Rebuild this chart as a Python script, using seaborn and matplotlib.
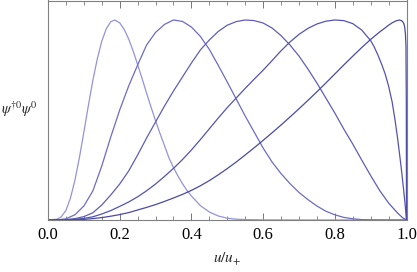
import matplotlib
matplotlib.use("Agg")
import matplotlib.pyplot as plt
import seaborn as sns
import pandas as pd
from matplotlib.ticker import MultipleLocator

# ---- data (normalised densities vs u/u+) ----
u1 = [0, 0.025, 0.037, 0.05, 0.0625, 0.075, 0.0875, 0.1, 0.1125, 0.125, 0.1375, 0.15,
      0.1625, 0.175, 0.186, 0.2, 0.2125, 0.225, 0.2375, 0.25, 0.2625, 0.275, 0.2875,
      0.3, 0.3125, 0.325, 0.3375, 0.35, 0.3625, 0.375, 0.3875, 0.4, 0.425, 0.45,
      0.475, 0.5, 0.525, 0.55, 0.6, 0.7, 1.0]
v1 = [0, 0.004, 0.016, 0.048, 0.109, 0.198, 0.311, 0.439, 0.571, 0.697, 0.806, 0.894,
      0.956, 0.991, 1.0, 0.986, 0.953, 0.905, 0.845, 0.777, 0.707, 0.634, 0.564,
      0.496, 0.432, 0.372, 0.31, 0.262, 0.22, 0.182, 0.148, 0.12, 0.072, 0.04,
      0.02, 0.009, 0.004, 0.002, 0.0005, 0, 0]

u2 = [0, 0.025, 0.05, 0.075, 0.1, 0.125, 0.15, 0.175, 0.2, 0.225, 0.25, 0.275, 0.3,
      0.325, 0.35, 0.375, 0.4, 0.425, 0.45, 0.475, 0.5, 0.525, 0.55, 0.575, 0.6,
      0.625, 0.65, 0.675, 0.7, 0.725, 0.75, 0.775, 0.8, 0.825, 0.85, 0.875, 0.9,
      0.95, 1.0]
v2 = [0, 0.0005, 0.006, 0.026, 0.07, 0.145, 0.27, 0.415, 0.55, 0.67, 0.775, 0.875,
      0.938, 0.978, 1.0, 0.993, 0.965, 0.918, 0.853, 0.773, 0.69, 0.605, 0.52,
      0.44, 0.36, 0.29, 0.232, 0.182, 0.138, 0.102, 0.07, 0.044, 0.026, 0.013,
      0.006, 0.002, 0.0005, 0, 0]

u3 = [0, 0.025, 0.05, 0.075, 0.1, 0.125, 0.15, 0.175, 0.2, 0.225, 0.25, 0.275, 0.3,
      0.325, 0.35, 0.375, 0.4, 0.425, 0.45, 0.475, 0.5, 0.525, 0.55, 0.575, 0.6,
      0.625, 0.65, 0.675, 0.7, 0.725, 0.75, 0.775, 0.8, 0.825, 0.85, 0.875, 0.9,
      0.925, 0.95, 0.975, 0.99, 1.0]
v3 = [0, 0.0002, 0.002, 0.007, 0.017, 0.036, 0.075, 0.125, 0.18, 0.245, 0.325, 0.41,
      0.49, 0.57, 0.645, 0.715, 0.785, 0.85, 0.9, 0.943, 0.974, 0.992, 1.0, 0.997,
      0.985, 0.96, 0.922, 0.875, 0.82, 0.755, 0.685, 0.61, 0.535, 0.455, 0.38, 0.3,
      0.222, 0.148, 0.085, 0.035, 0.01, 0]

u4 = [0, 0.025, 0.05, 0.075, 0.1, 0.125, 0.15, 0.175, 0.2, 0.225, 0.25, 0.275, 0.3,
      0.325, 0.35, 0.375, 0.4, 0.425, 0.45, 0.475, 0.5, 0.525, 0.55, 0.575, 0.6,
      0.625, 0.65, 0.675, 0.7, 0.725, 0.75, 0.775, 0.8, 0.825, 0.85, 0.875, 0.9,
      0.91, 0.92, 0.93, 0.94, 0.95, 0.96, 0.968, 0.975, 0.982, 0.987, 0.992, 0.996,
      0.998, 1.0]
v4 = [0, 0, 0.001, 0.003, 0.008, 0.016, 0.03, 0.047, 0.068, 0.09, 0.116, 0.146, 0.18,
      0.218, 0.258, 0.302, 0.35, 0.402, 0.456, 0.51, 0.562, 0.61, 0.658, 0.704, 0.749,
      0.797, 0.846, 0.89, 0.928, 0.958, 0.98, 0.994, 1.0, 0.997, 0.982, 0.95, 0.897,
      0.865, 0.826, 0.782, 0.733, 0.67, 0.59, 0.5, 0.41, 0.31, 0.233, 0.15, 0.08,
      0.04, 0]

u5 = [0, 0.05, 0.1, 0.125, 0.15, 0.175, 0.2, 0.225, 0.25, 0.275, 0.3, 0.325, 0.35,
      0.375, 0.4, 0.425, 0.45, 0.475, 0.5, 0.525, 0.55, 0.575, 0.6, 0.625, 0.65,
      0.675, 0.7, 0.725, 0.75, 0.775, 0.8, 0.825, 0.85, 0.875, 0.9, 0.925, 0.94,
      0.95, 0.96, 0.97, 0.98, 0.987, 0.992, 0.995, 0.997, 0.9985, 0.9995, 1.0]
v5 = [0, 0.0005, 0.003, 0.007, 0.012, 0.019, 0.027, 0.037, 0.05, 0.063, 0.077, 0.093,
      0.11, 0.128, 0.148, 0.171, 0.197, 0.226, 0.257, 0.29, 0.325, 0.361, 0.398,
      0.436, 0.475, 0.515, 0.556, 0.598, 0.641, 0.685, 0.73, 0.775, 0.819, 0.862,
      0.903, 0.94, 0.96, 0.974, 0.986, 0.995, 1.0, 0.996, 0.985, 0.965, 0.93, 0.87,
      0.6, 0]

series_names = ["n1", "n2", "n3", "n4", "n5"]
colors = ["#9393dc", "#6c6cc6", "#5e5eba", "#5454b0", "#4a4aa6"]
x_ticks = [0.0, 0.2, 0.4, 0.6, 0.8, 1.0]
x_tick_labels = ["0.0", "0.2", "0.4", "0.6", "0.8", "1.0"]
x_label = r"$u/u_{+}$"
y_label = r"$\psi^{\dagger 0}\psi^{0}$"

frames = []
for name, u, v in zip(series_names, [u1, u2, u3, u4, u5], [v1, v2, v3, v4, v5]):
    frames.append(pd.DataFrame({"u": u, "v": v, "curve": name}))
df = pd.concat(frames, ignore_index=True)

sns.set_style("white")
plt.rcParams["font.family"] = ["Liberation Serif", "DejaVu Serif"]
plt.rcParams["mathtext.fontset"] = "stix"

fig = plt.figure(figsize=(4.17, 2.72), dpi=100)
ax = fig.add_axes([48 / 417, 1 - 220 / 272, 358.5 / 417, 219.5 / 272])

sns.lineplot(data=df, x="u", y="v", hue="curve", palette=colors, sort=False,
             linewidth=0.9, legend=False, ax=ax, estimator=None)

ax.set_xlim(0, 1)
ax.set_ylim(0, 219.5 / 200)

ax.set_xticks(x_ticks)
ax.set_xticklabels(x_tick_labels)
ax.xaxis.set_minor_locator(MultipleLocator(0.05))
ax.tick_params(axis="x", which="both", direction="in", top=True, bottom=True,
               colors="#777777", labelcolor="black", labelsize=12, pad=5)
ax.tick_params(axis="x", which="major", length=5, width=0.7)
ax.tick_params(axis="x", which="minor", length=3, width=0.6)
ax.set_yticks([])

for s in ax.spines.values():
    s.set_visible(True)
    s.set_color("#808080")
    s.set_linewidth(0.8)

ax.set_xlabel(x_label, fontsize=11, labelpad=6)
ax.set_ylabel("")
ax.text(-0.028, 0.505, y_label, transform=ax.transAxes, fontsize=10.5,
        ha="right", va="center")

fig.savefig("out.png", dpi=100)
